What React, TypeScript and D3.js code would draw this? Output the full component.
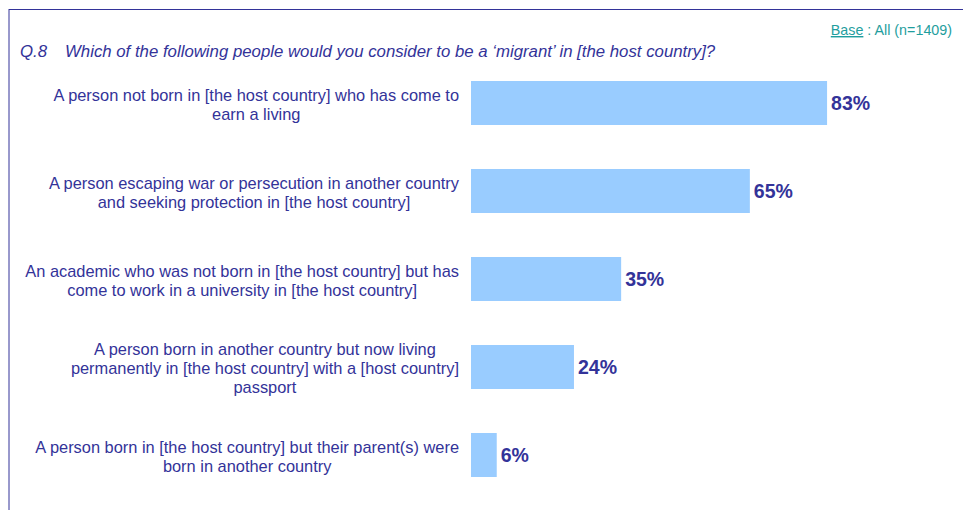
import React, { useEffect, useRef } from "react";
import * as d3 from "d3";

const categories: string[][] = [
  ["A person not born in [the host country] who has come to", "earn a living"],
  ["A person escaping war or persecution in another country", "and seeking protection in [the host country]"],
  ["An academic who was not born in [the host country] but has", "come to work in a university in [the host country]"],
  ["A person born in another country but now living", "permanently in [the host country] with a [host country]", "passport"],
  ["A person born in [the host country] but their parent(s) were", "born in another country"],
];
const values: number[] = [83, 65, 35, 24, 6];
const questionNo = "Q.8";
const questionText = "Which of the following people would you consider to be a \u2018migrant\u2019 in [the host country]?";
const baseLabel = "Base";
const baseText = " : All (n=1409)";

const W = 963;
const H = 510;
const NAVY = "#333399";
const BAR = "#99CCFF";
const TEAL = "#1F9E9E";
const FONT = "'Liberation Sans', Arial, sans-serif";

export default function App() {
  const ref = useRef<SVGSVGElement>(null);
  useEffect(() => {
    const svg = d3.select(ref.current);
    svg.selectAll("*").remove();

    // frame
    svg.append("line").attr("x1", 9).attr("x2", W).attr("y1", 9.5).attr("y2", 9.5)
      .attr("stroke", NAVY).attr("stroke-width", 1);
    svg.append("line").attr("x1", 9).attr("x2", 9).attr("y1", 9).attr("y2", H)
      .attr("stroke", NAVY).attr("stroke-width", 1);

    // base
    const bt = svg.append("text").attr("x", 952).attr("y", 35).attr("text-anchor", "end")
      .attr("font-family", FONT).attr("font-size", 14.3).attr("fill", TEAL);
    bt.append("tspan").attr("text-decoration", "underline").text(baseLabel);
    bt.append("tspan").text(baseText);

    // title
    svg.append("text").attr("x", 20).attr("y", 57).attr("font-family", FONT)
      .attr("font-style", "italic").attr("font-size", 16.8).attr("fill", NAVY).text(questionNo);
    svg.append("text").attr("x", 65).attr("y", 57).attr("font-family", FONT)
      .attr("font-style", "italic").attr("font-size", 16.8).attr("fill", NAVY).text(questionText);

    const x = d3.scaleLinear().domain([0, 100]).range([471, 900]);
    const y = d3.scaleBand<number>().domain(d3.range(values.length)).range([59, 499])
      .paddingInner(0.5).paddingOuter(0.25);

    const g = svg.append("g");
    g.selectAll("rect").data(values).join("rect")
      .attr("x", x(0)).attr("y", (_, i) => y(i)!)
      .attr("width", (d) => x(d) - x(0)).attr("height", y.bandwidth())
      .attr("fill", BAR);

    g.selectAll("text.val").data(values).join("text").attr("class", "val")
      .attr("x", (d) => x(d) + 4).attr("y", (_, i) => y(i)! + y.bandwidth() / 2 + 7)
      .attr("font-family", FONT).attr("font-weight", "bold").attr("font-size", 19.5)
      .attr("fill", NAVY).text((d) => `${d}%`);

    const lh = 19;
    categories.forEach((lines, i) => {
      const cy = y(i)! + y.bandwidth() / 2;
      const t = svg.append("text").attr("font-family", FONT).attr("font-size", 16.4)
        .attr("fill", NAVY).attr("text-anchor", "middle");
      const spans = lines.map((ln, j) =>
        t.append("tspan").attr("y", cy - ((lines.length - 1) * lh) / 2 + j * lh + 7).text(ln)
      );
      let maxW = 0;
      spans.forEach((s) => {
        const n = s.node() as SVGTSpanElement;
        maxW = Math.max(maxW, n.getComputedTextLength());
      });
      const cx = 459 - maxW / 2;
      spans.forEach((s) => s.attr("x", cx));
    });
  }, []);
  return (
    <svg ref={ref} width={W} height={H}
      style={{ position: "absolute", left: 0, top: 0, background: "#fff" }} />
  );
}
